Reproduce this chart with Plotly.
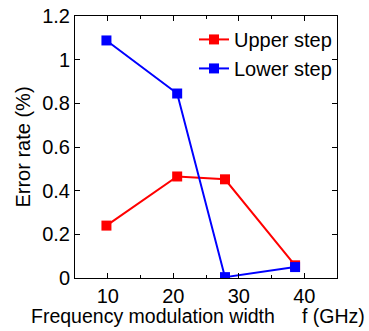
import plotly.graph_objects as go

x_upper = [9.8, 20.6, 27.9, 38.6]
y_upper = [0.24, 0.465, 0.452, 0.058]
x_lower = [9.8, 20.6, 27.9, 38.6]
y_lower = [1.088, 0.845, 0.004, 0.05]

font = "Liberation Sans, Arial, sans-serif"

fig = go.Figure()
fig.add_trace(go.Scatter(x=x_upper, y=y_upper, mode="lines+markers", name="Upper step",
                         line=dict(color="#ff0000", width=2),
                         marker=dict(symbol="square", size=10, color="#ff0000")))
fig.add_trace(go.Scatter(x=x_lower, y=y_lower, mode="lines+markers", name="Lower step",
                         line=dict(color="#0000ff", width=2),
                         marker=dict(symbol="square", size=10, color="#0000ff")))

fig.add_annotation(text="Frequency modulation width\u00a0\u00a0\u00a0\u00a0\u00a0f (GHz)",
                   xref="paper", yref="paper", x=0.468, y=-0.145, xanchor="center", yanchor="middle",
                   showarrow=False, font=dict(size=19.5))

fig.update_layout(
    width=369, height=331,
    margin=dict(l=75, r=32, t=16, b=53, autoexpand=False),
    paper_bgcolor="white", plot_bgcolor="white",
    font=dict(family=font, size=20, color="black"),
    showlegend=True,
    legend=dict(x=1.0, y=0.985, xanchor="right", yanchor="top",
                bgcolor="rgba(0,0,0,0)", font=dict(size=20), tracegroupgap=0),
    xaxis=dict(range=[5, 45], tickvals=[10, 20, 30, 40], ticks="inside", ticklen=5,
               tickcolor="black", showline=True, linecolor="black", linewidth=1, mirror="ticks",
               showgrid=False, zeroline=False, automargin=False, ticklabeloverflow="allow",
               minor=dict(tickvals=[15, 25, 35], ticks="inside", ticklen=3, tickcolor="black"),
               tickfont=dict(size=20)),
    yaxis=dict(range=[0, 1.2], tickvals=[0, 0.2, 0.4, 0.6, 0.8, 1.0, 1.2],
               ticktext=["0", "0.2", "0.4", "0.6", "0.8", "1", "1.2"],
               ticks="inside", ticklen=5, tickcolor="black",
               showline=True, linecolor="black", linewidth=1, mirror="ticks",
               showgrid=False, zeroline=False, automargin=False, ticklabeloverflow="allow",
               title=dict(text="Error rate (%)", font=dict(size=20), standoff=6),
               tickfont=dict(size=20)),
)

# remove the browser's default 8px body margin so the figure fills the window exactly
fig.write_html("out.html", config={"displayModeBar": False},
               post_script="document.body.style.margin='0';")
